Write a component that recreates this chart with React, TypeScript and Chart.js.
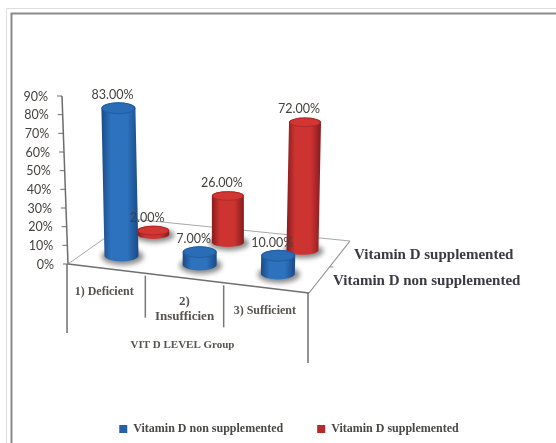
import React, { useEffect, useRef } from "react";
import { Chart, registerables } from "chart.js";

Chart.register(...registerables);

const categories: (string | string[])[] = ["1) Deficient", ["2)", "Insufficien"], "3) Sufficient"];
const nonSupplemented = [83, 7, 10];
const supplemented = [2, 26, 72];
const seriesNames = ["Vitamin D non supplemented", "Vitamin D supplemented"];
const axisTitle = "VIT D LEVEL Group";

const SERIF = '"Liberation Serif", serif';
const SANS = 'Lato, sans-serif';
const TEXT = "#44413d";
const rows = [
  { depth: 0.28, shift: -0.015, ry: 0.35, edge: "#1a4a86", mid: "#2c72bd", cap: "#2a6cb6", capRim: "#235d9f" },
  { depth: 0.75, shift: 0, ry: 0.3, edge: "#861c1e", mid: "#cd3431", cap: "#d23632", capRim: "#b02a2a" },
];
const lerp = (a: number, b: number, t: number) => a + (b - a) * t;

const floor = (area: any) => ({
  fl: { x: area.left, y: area.bottom },
  fr: { x: area.right, y: area.bottom + 29 },
  br: { x: area.right + 41, y: area.bottom - 23 },
  bl: { x: area.left + 64, y: area.bottom - 45 },
});
const project = (area: any, u: number, d: number) => {
  const f = floor(area);
  return {
    x: lerp(lerp(f.fl.x, f.fr.x, u), lerp(f.bl.x, f.br.x, u), d),
    y: lerp(lerp(f.fl.y, f.fr.y, u), lerp(f.bl.y, f.br.y, u), d),
  };
};
const topOf = (chart: any, i: number, el: any) => {
  const area = chart.chartArea;
  const row = rows[i];
  const u = (el.x - area.left) / area.width + row.shift;
  const b = project(area, u, row.depth);
  const h = (el.base - el.y) * 0.95;
  return { bx: b.x, by: b.y, tx: b.x + h * (u - 0.5) * 0.06, ty: b.y - h };
};

const line = (ctx: CanvasRenderingContext2D, pts: number[][], color: string, w: number) => {
  ctx.strokeStyle = color;
  ctx.lineWidth = w;
  ctx.beginPath();
  pts.forEach((p, k) => (k ? ctx.lineTo(p[0], p[1]) : ctx.moveTo(p[0], p[1])));
  ctx.stroke();
};

const scene = {
  id: "scene",
  beforeDraw(chart: any) {
    const { ctx, chartArea: area, scales } = chart;
    ctx.save();
    ctx.fillStyle = "#fff";
    ctx.fillRect(0, 0, chart.width, chart.height);
    // picture frame
    line(ctx, [[6.5, 443], [6.5, 8.5], [556, 8.5]], "#dedede", 1);
    line(ctx, [[11.5, 443], [11.5, 13.5], [556, 13.5]], "#8a8a8a", 2);

    // tilted value axis
    const y = scales.y;
    const axisX = (v: number) => area.left - (v / 90) * 6;
    line(ctx, [[axisX(90), y.getPixelForValue(90)], [axisX(0), y.getPixelForValue(0)]], "#6b6b6b", 1.5);
    ctx.font = `12.5px ${SANS}`;
    ctx.fillStyle = TEXT;
    ctx.textAlign = "right";
    ctx.textBaseline = "middle";
    y.ticks.forEach((t: any) => {
      const py = y.getPixelForValue(t.value);
      const ax = axisX(t.value);
      line(ctx, [[ax - 5, py], [ax, py]], "#6b6b6b", 1);
      ctx.fillText(`${t.value}%`, ax - 14, py + 0.5);
    });

    // floor and the walls under its front edge
    const f = floor(area);
    line(ctx, [[f.fl.x, f.fl.y], [f.bl.x, f.bl.y], [f.br.x, f.br.y]], "#a8a8a8", 1);
    line(ctx, [[f.br.x, f.br.y], [f.fr.x, f.fr.y]], "#8e8e8e", 1.2);
    const mid = project(area, 1, 0.5);
    line(ctx, [[mid.x, mid.y], [mid.x + 4, mid.y]], "#8e8e8e", 1);
    line(ctx, [[f.fl.x, f.fl.y], [f.fr.x, f.fr.y]], "#6f6f6f", 1.5);
    line(ctx, [[f.fl.x - 1, f.fl.y], [f.fl.x - 1, f.fl.y + 69]], "#6f6f6f", 1.5);
    const c1 = project(area, 1 / 3, 0);
    const c2 = project(area, 2 / 3, 0);
    line(ctx, [[c1.x - 3, c1.y + 2], [c1.x - 3, c1.y + 44]], "#777", 1.5);
    line(ctx, [[c2.x - 5, c2.y + 2], [c2.x - 5, c2.y + 44]], "#777", 1.5);
    line(ctx, [[f.fr.x - 1, f.fr.y], [f.fr.x - 1, f.fr.y + 70]], "#6f6f6f", 1.5);

    // category and axis titles
    const x = scales.x;
    ctx.textAlign = "center";
    ctx.fillStyle = "#57534e";
    x.ticks.forEach((t: any, i: number) => {
      const px = x.getPixelForTick(i);
      const fy = project(area, (px - area.left) / area.width, 0).y + 23;
      const parts = ([] as string[]).concat(categories[i] as any);
      ctx.font = `bold ${parts.length > 1 ? 13 : 12}px ${SERIF}`;
      parts.forEach((s, k) => ctx.fillText(s, px - 4, fy + k * 15.5));
    });
    ctx.font = `bold 11px ${SERIF}`;
    ctx.fillText(axisTitle, lerp(f.fl.x, f.fr.x, 0.475), area.bottom + 81);

    // depth axis names
    ctx.font = `bold 15px ${SERIF}`;
    ctx.textAlign = "left";
    ctx.fillStyle = "#3a3a42";
    ctx.fillText(chart.data.datasets[1].label, f.br.x + 4, f.br.y + 14);
    ctx.fillText(chart.data.datasets[0].label, f.br.x - 17, f.br.y + 40);
    ctx.restore();
  },
  beforeDatasetDraw(chart: any, args: any) {
    const { ctx } = chart;
    const i = args.index;
    const row = rows[i];
    chart.getDatasetMeta(i).data.forEach((el: any) => {
      const rx = el.width / 2;
      const ry = rx * row.ry;
      const { bx, by, tx, ty } = topOf(chart, i, el);
      ctx.save();
      // soft contact shadow
      ctx.filter = "blur(2.5px)";
      ctx.fillStyle = "rgba(60,60,60,.6)";
      ctx.beginPath();
      ctx.ellipse(bx + 1, by + 1, rx + 4, ry + 2.5, 0, 0, Math.PI * 2);
      ctx.fill();
      ctx.filter = "none";
      // body
      const g = ctx.createLinearGradient(Math.min(bx, tx) - rx, 0, Math.max(bx, tx) + rx, 0);
      g.addColorStop(0, row.edge);
      g.addColorStop(0.25, row.mid);
      g.addColorStop(0.7, row.mid);
      g.addColorStop(1, row.edge);
      ctx.fillStyle = g;
      ctx.beginPath();
      ctx.ellipse(bx, by, rx, ry, 0, Math.PI, 0, true);
      ctx.lineTo(tx + rx, ty);
      ctx.ellipse(tx, ty, rx, ry, 0, 0, Math.PI, true);
      ctx.closePath();
      ctx.fill();
      // cap
      ctx.fillStyle = row.capRim;
      ctx.beginPath();
      ctx.ellipse(tx, ty, rx, ry, 0, 0, Math.PI * 2);
      ctx.fill();
      ctx.fillStyle = row.cap;
      ctx.beginPath();
      ctx.ellipse(tx, ty, rx - 1.5, ry - 1, 0, 0, Math.PI * 2);
      ctx.fill();
      ctx.restore();
    });
    return false;
  },
  afterDatasetsDraw(chart: any) {
    const { ctx } = chart;
    ctx.save();
    ctx.font = `12.5px ${SANS}`;
    ctx.fillStyle = TEXT;
    ctx.textAlign = "center";
    ctx.textBaseline = "middle";
    [0, 1].forEach((i) => {
      const vals = chart.data.datasets[i].data;
      chart.getDatasetMeta(i).data.forEach((el: any, k: number) => {
        const { tx, ty } = topOf(chart, i, el);
        ctx.fillText(`${vals[k].toFixed(2)}%`, tx - 6, ty - 13);
      });
    });
    ctx.restore();
  },
};

export default function App() {
  const ref = useRef<HTMLCanvasElement>(null);
  useEffect(() => {
    const chart = new Chart(ref.current!, {
      type: "bar",
      data: {
        labels: categories as any,
        datasets: [
          { label: seriesNames[0], data: nonSupplemented, backgroundColor: "#2461a8", barThickness: 34, grouped: false } as any,
          { label: seriesNames[1], data: supplemented, backgroundColor: "#b52a2a", barThickness: 32, grouped: false } as any,
        ],
      },
      plugins: [scene],
      options: {
        animation: false,
        responsive: false,
        layout: { padding: { left: 22, right: 0, top: 96, bottom: -2 } },
        plugins: {
          tooltip: { enabled: false },
          legend: {
            position: "bottom",
            labels: {
              boxWidth: 8,
              boxHeight: 8,
              padding: 34,
              color: "#4a4845",
              font: { family: SERIF, size: 12, weight: "bold" },
            },
          },
        },
        scales: {
          x: {
            grid: { display: false },
            border: { display: false },
            ticks: { display: false },
            afterFit: (s: any) => { s.height = 125; },
          },
          y: {
            min: 0,
            max: 90,
            grid: { display: false },
            border: { display: false },
            ticks: { display: false, stepSize: 10 },
            afterFit: (s: any) => { s.width = 46; },
          },
          spacer: {
            type: "linear",
            position: "right",
            grid: { display: false },
            border: { display: false },
            ticks: { display: false },
            afterFit: (s: any) => { s.width = 247; },
          },
        },
      } as any,
    });
    return () => chart.destroy();
  }, []);
  return (
    <canvas
      ref={ref}
      width={556}
      height={443}
      style={{ position: "absolute", left: 0, top: 0, width: 556, height: 443, filter: "blur(0.5px)" }}
    />
  );
}
